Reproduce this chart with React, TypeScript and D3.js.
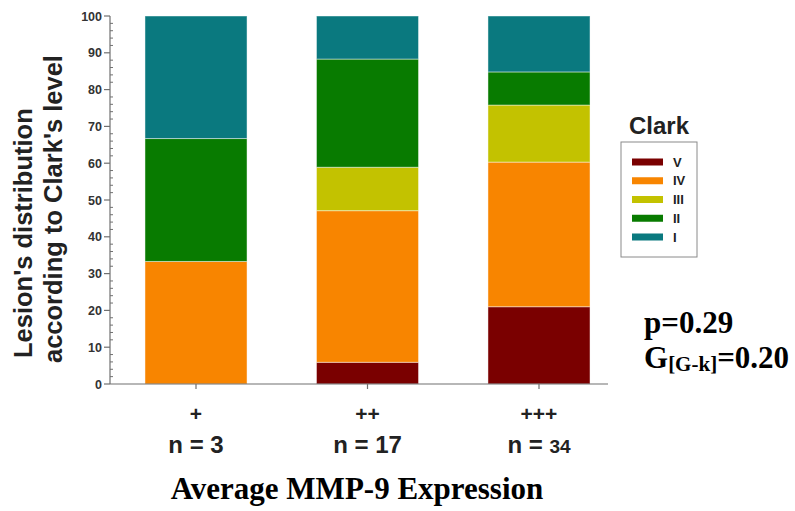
import React from "react";
import * as d3 from "d3";

const categories = ["+", "++", "+++"];
const nLabels = ["3", "17", "34"];
const levels = ["V", "IV", "III", "II", "I"];
const colors = ["#7a0000", "#f88500", "#c3c200", "#087b00", "#0a797f"];
const seriesV = [0, 5.9, 21.0];
const seriesIV = [33.3, 41.2, 39.3];
const seriesIII = [0, 11.8, 15.5];
const seriesII = [33.4, 29.4, 9.0];
const seriesI = [33.3, 11.7, 15.2];
const yTicks = [0, 10, 20, 30, 40, 50, 60, 70, 80, 90, 100];

const W = 795;
const H = 511;

export default function App() {
  const x = d3.scaleBand<string>().domain(categories).range([110, 625]).paddingInner(0.405).paddingOuter(0.204);
  const y = d3.scaleLinear().domain([0, 100]).range([384, 16]);
  const table = categories.map((c, i) => ({
    cat: c,
    V: seriesV[i],
    IV: seriesIV[i],
    III: seriesIII[i],
    II: seriesII[i],
    I: seriesI[i],
  }));
  const stacked = d3.stack<any>().keys(levels)(table);
  const minorTicks = d3.range(0, 101, 2).filter((v) => v % 10 !== 0);
  const arial = "Arial, 'Liberation Sans', Helvetica, sans-serif";
  const times = "'Times New Roman', 'Liberation Serif', Times, serif";
  const axisColor = "#707070";
  const legendY = (i: number) => 162 + i * 18.75;

  return (
    <svg width={W} height={H} style={{ position: "absolute", left: 0, top: 0, background: "#fff" }}>
      {/* bars */}
      {stacked.map((s, si) => (
        <g key={s.key} fill={colors[si]}>
          {s.map((d, i) =>
            d[1] - d[0] > 0 ? (
              <rect
                key={i}
                x={x(categories[i])!}
                y={y(d[1])}
                width={x.bandwidth()}
                height={y(d[0]) - y(d[1])}
                stroke="rgba(255,255,255,0.45)"
                strokeWidth={1}
              />
            ) : null
          )}
        </g>
      ))}

      {/* y axis */}
      <line x1={110} x2={110} y1={y(100)} y2={y(0)} stroke={axisColor} strokeWidth={1.2} />
      {yTicks.map((t) => (
        <g key={t}>
          <line x1={104} x2={110} y1={y(t)} y2={y(t)} stroke={axisColor} strokeWidth={1.2} />
          <text
            x={102}
            y={y(t)}
            dy="0.36em"
            textAnchor="end"
            fontFamily={arial}
            fontWeight="bold"
            fontSize={12.5}
            fill="#333"
          >
            {t}
          </text>
        </g>
      ))}
      {minorTicks.map((t) => (
        <line key={t} x1={110} x2={113} y1={y(t)} y2={y(t)} stroke={axisColor} strokeWidth={1} />
      ))}

      {/* x axis */}
      <line x1={110} x2={608} y1={y(0)} y2={y(0)} stroke={axisColor} strokeWidth={1.2} />
      {categories.map((c, i) => {
        const cx = x(c)! + x.bandwidth() / 2;
        return (
          <g key={c}>
            <line x1={cx} x2={cx} y1={y(0)} y2={y(0) + 5} stroke={axisColor} strokeWidth={1.2} />
            <text x={cx} y={421} textAnchor="middle" fontFamily={arial} fontWeight="bold" fontSize={21} fill="#222">
              {c}
            </text>
            <text x={cx} y={453} textAnchor="middle" fontFamily={arial} fontWeight="bold" fontSize={24} fill="#222">
              {"n = "}
              <tspan fontSize={i === 2 ? 19 : 24}>{nLabels[i]}</tspan>
            </text>
          </g>
        );
      })}

      {/* y title */}
      <text
        transform={`translate(32,358) rotate(-90)`}
        fontFamily={arial}
        fontWeight="bold"
        fontSize={25.5}
        fill="#222"
      >
        Lesion's distribution
      </text>
      <text
        transform={`translate(62,363) rotate(-90)`}
        fontFamily={arial}
        fontWeight="bold"
        fontSize={25.5}
        fill="#222"
      >
        according to Clark's level
      </text>

      {/* x title */}
      <text x={357} y={499} textAnchor="middle" fontFamily={times} fontWeight="bold" fontSize={31} fill="#000">
        Average MMP-9 Expression
      </text>

      {/* legend */}
      <text x={659} y={134} textAnchor="middle" fontFamily={arial} fontWeight="bold" fontSize={24} fill="#222">
        Clark
      </text>
      <rect x={621} y={142} width={76} height={115} fill="none" stroke="#8a8a8a" strokeWidth={1} />
      {levels.map((l, i) => (
        <g key={l}>
          <rect x={632} y={legendY(i) - 3.5} width={31} height={7} fill={colors[i]} />
          <text x={673} y={legendY(i)} dy="0.36em" fontFamily={arial} fontWeight="bold" fontSize={13} fill="#222">
            {l}
          </text>
        </g>
      ))}

      {/* stats */}
      <text x={644} y={333} fontFamily={times} fontWeight="bold" fontSize={31} fill="#000">
        p=0.29
      </text>
      <text x={644} y={368} fontFamily={times} fontWeight="bold" fontSize={31} fill="#000">
        G
        <tspan fontSize={21} dy={3}>[G-k]</tspan>
        <tspan dy={-3}>=0.20</tspan>
      </text>
    </svg>
  );
}
